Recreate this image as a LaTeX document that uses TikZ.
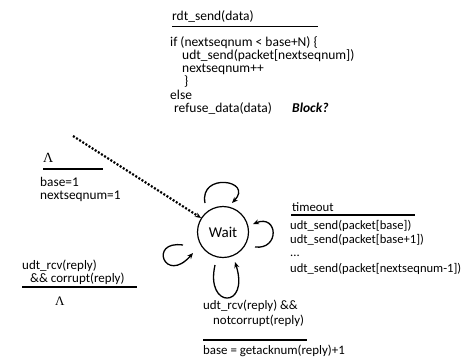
\documentclass[tikz,border=0pt]{standalone}
\usepackage{fontspec}
\setmainfont{Carlito}
\newfontfamily\greekserif{Liberation Serif}
\usetikzlibrary{arrows.meta,calc}

\begin{document}
\begin{tikzpicture}[x=1bp,y=-1bp,
  txt/.style={anchor=base west,inner sep=0pt,font=\fontsize{#1}{15bp}\selectfont},
  txt/.default=13.5bp,
  lam/.style={anchor=base west,inner sep=0pt,font=\greekserif\fontsize{#1}{15bp}\selectfont},
  lam/.default=14bp,
  rule/.style={line width=1.8bp},
  loop/.style={line width=1.3bp,-{Stealth[length=6bp,width=5bp]}},
  state/.style={circle,draw,line width=1.2bp,minimum size=51bp,inner sep=0pt,
    font=\fontsize{15bp}{16bp}\selectfont}]
\useasboundingbox (0,0) rectangle (475,361);

% the single state
\node[state] (wait) at (223,232) {Wait};

% action for rdt_send
\node[txt] (rs) at (172,20) {rdt\_send(data)};
\draw[rule] (172,26.5) -- (318,26.5);
\node[txt] (r1) at (170,46) {if (nextseqnum < base+N) \{};
\node[txt] (r2) at (182,59.3) {udt\_send(packet[nextseqnum])};
\node[txt] (r3) at (182,72.6) {nextseqnum++};
\node[txt] (r4) at (184,85.9) {\}};
\node[txt] (r5) at (170,99.2) {else};
\node[txt] (r6) at (174,112.5) {refuse\_data(data)};
\node[txt] (r7) at (292,112.5) {\textbf{\textit{Block?}}};

% initial transition
\node[lam] (l1) at (43,162.5) {Λ};
\draw[rule] (43,169) -- (103,169);
\node[txt=13.3bp] (i1) at (40,186) {base=1};
\node[txt=13.3bp] (i2) at (40,199) {nextseqnum=1};
\coordinate (init) at (73,136);
\draw[line width=2.2bp,dash pattern=on 2bp off 1.7bp,-{Stealth[length=6bp,width=5bp]}] (init) -- (wait);

% timeout
\node[txt=12.8bp] (t0) at (292,211) {timeout};
\draw[rule] (291,215) -- (415,215);
\node[txt=12.6bp] (t1) at (290,229) {udt\_send(packet[base])};
\node[txt=12.6bp] (t2) at (290,243.3) {udt\_send(packet[base+1])};
\node[txt=12.6bp] (t3) at (290,256) {...};
\node[txt=12.6bp] (t4) at (290,272) {udt\_send(packet[nextseqnum-1])};

% corrupt reply
\node[txt=13bp] (c1) at (22,269) {udt\_rcv(reply)};
\node[txt=13bp] (c2) at (30,282) {\&\& corrupt(reply)};
\draw[rule] (22,287) -- (137,287);
\node[lam=13bp] (l2) at (55,305) {Λ};

% good reply
\node[txt=12.9bp] (g1) at (203,309) {udt\_rcv(reply) \&\&};
\node[txt=12.9bp] (g2) at (213,324) {notcorrupt(reply)};
\draw[rule] (203,340) -- (307,340);
\node[txt=12.9bp] (g3) at (203,354) {base = getacknum(reply)+1};

% self loops on the state
\draw[loop] ($(wait)+(-18,-29)$) .. controls +(-6,-31) and +(22,-23) .. ($(wait)+(9,-29)$);
\draw[loop] ($(wait)+(32,15)$) .. controls +(25,3) and +(25,-10) .. ($(wait)+(30,-8)$);
\draw[loop] ($(wait)+(-8,33)$) .. controls +(-10,44) and +(15,47) .. ($(wait)+(12,30)$);
\draw[loop] ($(wait)+(-40,13)$) .. controls +(-35,-5) and +(-28,32) .. ($(wait)+(-30,21)$);
\end{tikzpicture}
\end{document}
